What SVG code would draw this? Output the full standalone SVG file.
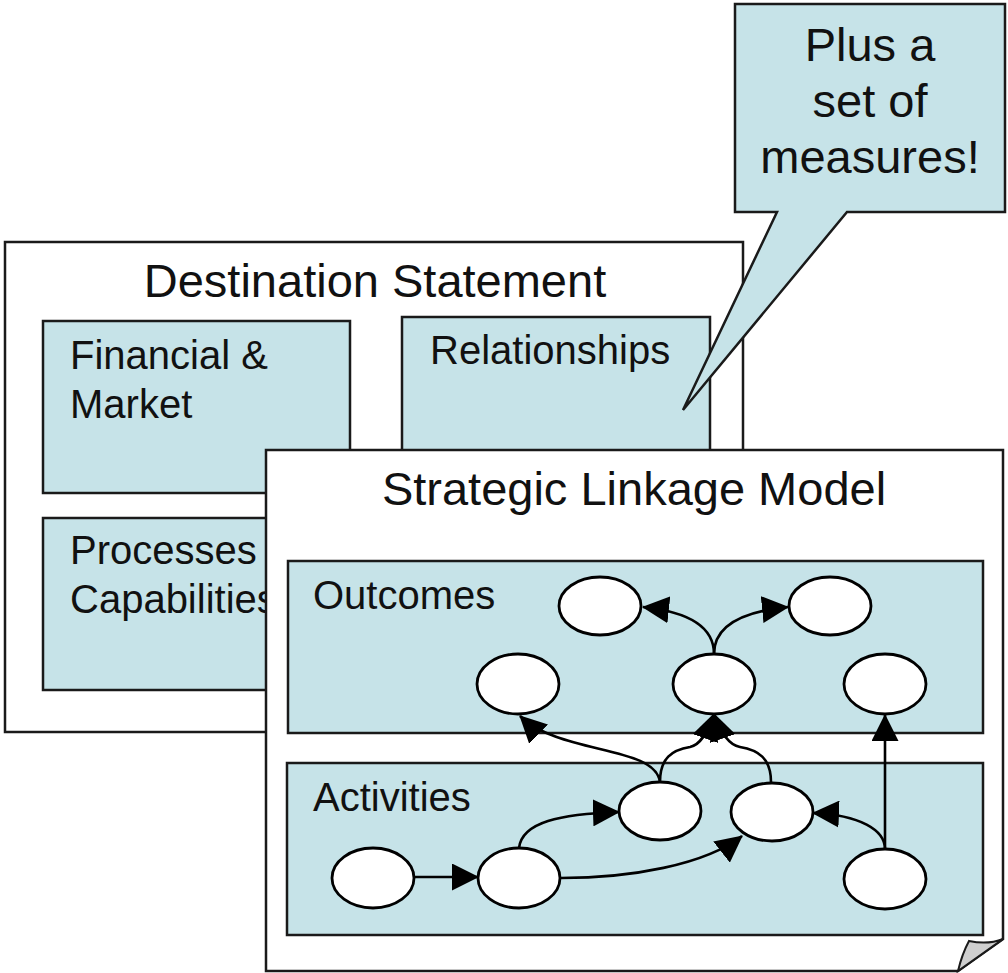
<svg xmlns="http://www.w3.org/2000/svg" width="1008" height="973" viewBox="0 0 1008 973">
<defs>
<style>
.frame{fill:#ffffff;stroke:#1a1a1a;stroke-width:2.5}
.box{fill:#c6e3e8;stroke:#1a1a1a;stroke-width:2.5}
.node{fill:#ffffff;stroke:#000000;stroke-width:2.8}
.edge{fill:none;stroke:#000000;stroke-width:2.6;marker-end:url(#ah)}
.title{font-family:"Liberation Sans",Arial,Helvetica,sans-serif;font-size:47px;fill:#111111;text-anchor:middle}
.lbl{font-family:"Liberation Sans",Arial,Helvetica,sans-serif;font-size:40px;fill:#111111}
</style>
<marker id="ah" viewBox="0 0 27 27" refX="26" refY="13.5" markerWidth="27" markerHeight="27" markerUnits="userSpaceOnUse" orient="auto">
<path d="M0,0 L27,13.5 L0,27 Z" fill="#000000"/>
</marker>
</defs>
<rect width="1008" height="973" fill="#ffffff"/>

<g id="destination-statement">
<rect class="frame" x="5" y="242" width="738" height="490"/>
<text class="title" x="375" y="297">Destination Statement</text>
</g>
<g id="financial-market">
<rect class="box" x="43" y="321" width="307" height="172"/>
<text class="lbl" x="70" y="369">Financial &amp;</text>
<text class="lbl" x="70" y="418">Market</text>
</g>
<g id="relationships">
<rect class="box" x="402" y="317" width="308" height="172"/>
<text class="lbl" x="430" y="364">Relationships</text>
</g>
<g id="processes-capabilities">
<rect class="box" x="43" y="518" width="307" height="172"/>
<text class="lbl" x="70" y="564">Processes</text>
<text class="lbl" x="70" y="613">Capabilities</text>
</g>

<g id="callout">
<path class="box" d="M735,4 H1005 V212 H847 L683,410 L777,212 H735 Z"/>
<text class="title" x="870" y="61">Plus a</text>
<text class="title" x="870" y="117">set of</text>
<text class="title" x="870" y="173">measures!</text>
</g>

<g id="strategic-linkage-model">
<path class="frame" d="M266,450 H1003 V939 L958,971 H266 Z"/>
<path d="M969,941 Q988,945 1003,939 L958,971 Q962,954 969,941 Z" fill="#cfcfcf" stroke="#1a1a1a" stroke-width="2"/>
<text class="title" x="634" y="505">Strategic Linkage Model</text>
</g>
<g id="outcomes">
<rect class="box" x="288" y="561" width="695" height="172"/>
<text class="lbl" x="313" y="609">Outcomes</text>
</g>
<g id="activities">
<rect class="box" x="287" y="763" width="696" height="172"/>
<text class="lbl" x="313" y="811">Activities</text>
</g>

<g id="connectors">
<path class="edge" d="M714,654 C714,628 690,612 643,607"/>
<path class="edge" d="M714,654 C714,628 738,612 788,607"/>
<path class="edge" d="M660,782 C655,745 560,755 520,716"/>
<path class="edge" d="M660,782 C660,758 672,750 690,747 C700,745 707,734 714,714"/>
<path class="edge" d="M771,782 C771,758 758,750 740,747 C729,745 721,734 714,714"/>
<path class="edge" d="M885,849 L885,715"/>
<path class="edge" d="M415,877 L478,877"/>
<path class="edge" d="M519,848 C522,822 560,814 619,812"/>
<path class="edge" d="M561,878 C630,878 705,865 742,836"/>
<path class="edge" d="M885,849 C885,830 860,815 813,813"/>
</g>

<g id="outcome-a"><ellipse class="node" cx="600" cy="606" rx="41" ry="29"/></g>
<g id="outcome-b"><ellipse class="node" cx="830" cy="606" rx="41" ry="29"/></g>
<g id="outcome-c"><ellipse class="node" cx="518" cy="684" rx="41" ry="30"/></g>
<g id="outcome-d"><ellipse class="node" cx="714" cy="684" rx="41" ry="30"/></g>
<g id="outcome-e"><ellipse class="node" cx="885" cy="684" rx="41" ry="30"/></g>
<g id="activity-f"><ellipse class="node" cx="660" cy="811" rx="41" ry="29"/></g>
<g id="activity-g"><ellipse class="node" cx="772" cy="812" rx="41" ry="29"/></g>
<g id="activity-h"><ellipse class="node" cx="373" cy="878" rx="41" ry="30"/></g>
<g id="activity-i"><ellipse class="node" cx="519" cy="878" rx="41" ry="30"/></g>
<g id="activity-j"><ellipse class="node" cx="885" cy="879" rx="41" ry="30"/></g>
</svg>
